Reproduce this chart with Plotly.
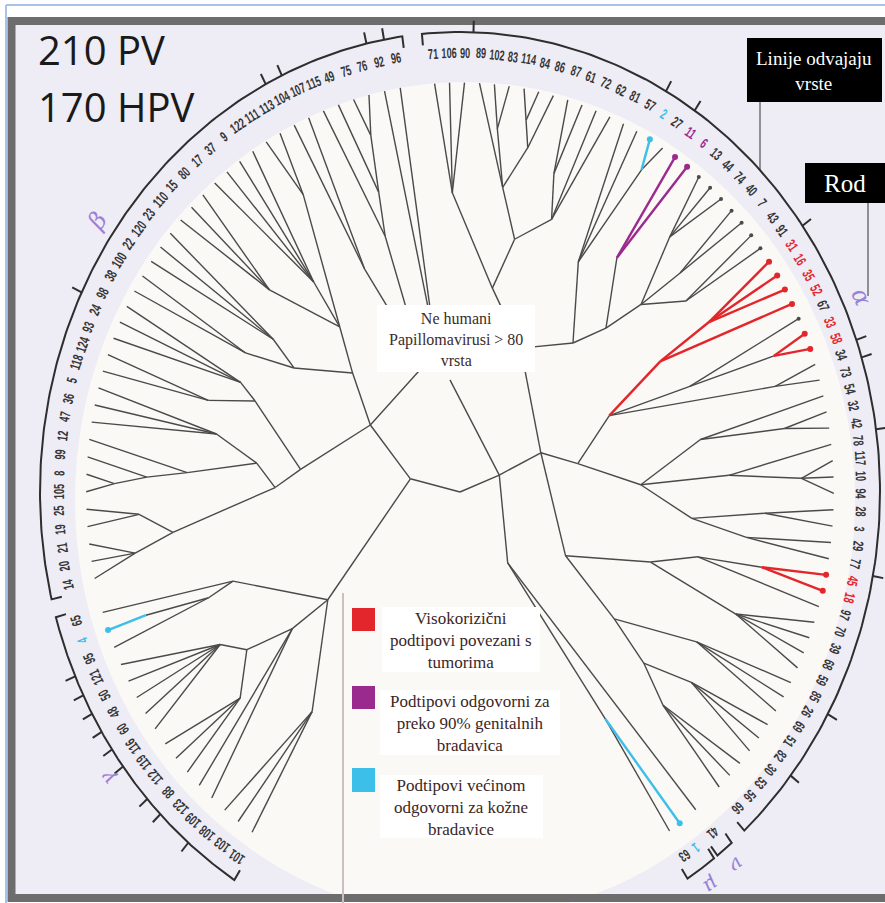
import numpy as np
import plotly.graph_objects as go

# ---------------- data ----------------
gamma_leaves = ["101", "103", "108", "109", "123", "88", "112", "119", "116", "60", "48", "50", "121", "95", "4", "65"]
beta_leaves = ["14", "20", "21", "19", "25", "105", "8", "99", "12", "47", "36", "5", "118", "124", "93", "24", "98",
               "38", "100", "22", "120", "23", "110", "15", "80", "17", "37", "9", "122", "111", "113", "104", "107",
               "115", "49", "75", "76", "92", "96"]
alpha_leaves = ["71", "106", "90", "89", "102", "83", "114", "84", "86", "87", "61", "72", "62", "81", "57", "2", "27",
                "11", "6", "13", "44", "74", "40", "7", "43", "91", "31", "16", "35", "52", "67", "33", "58", "34", "73",
                "54", "32", "42", "78", "117", "10", "94", "28", "3", "29", "77", "45", "18", "97", "70", "39", "68",
                "59", "85", "26", "69", "51", "82", "30", "53", "56", "66"]
nu_leaves = ["41"]
mu_leaves = ["1", "63"]
genus_symbols = {"gamma": "γ", "beta": "β", "alpha": "α", "nu": "ν", "mu": "μ"}

high_risk = ["31", "16", "35", "52", "33", "58", "45", "18"]
genital = ["11", "6"]
cutaneous = ["2", "1", "4"]
black_dot_tips = ["13", "44", "74", "40", "7", "43", "91", "67"]

species_breaks = {"alpha": ["90", "57", "27", "91", "58", "34", "42", "77", "85", "82"],
                  "beta": ["24", "113", "104", "76", "92"],
                  "gamma": ["108", "123", "88", "119", "116", "60", "48", "50", "121"]}

# tree: (node depth, children[, stem colour]); strings are leaves
RED = "red"
A_UPPER_A = (0.47, [
    (0.68, ["71", "106", "90"]),
    (0.59, [
        (0.70, ["89", (0.83, ["102", "83"]), (0.80, [(0.86, ["114", "84"]), "86"])]),
        (0.66, [(0.76, ["87", "61"]), "72", "62"]),
    ]),
])
A_UPPER_B = (0.44, [
    (0.60, ["81", "57", (0.86, ["2", "27"])]),
    (0.52, [(0.66, ["11", "6"]),
            (0.62, [(0.78, ["13", "44", "74"]), (0.74, ["40", "7"]), (0.71, ["43", "91"])])]),
])
A_RED = (0.41, [
    (0.58, [(0.73, ["31", "16", "35"], RED), "52"], RED),
    (0.62, ["67", (0.84, ["33", "58"])]),
    (0.82, ["34", "73"]),
])
A_RIGHT = (0.45, [
    (0.61, ["54", (0.82, ["32", "42"])]),
    (0.67, ["78", (0.85, ["117", "10", "94"])]),
    (0.58, [(0.76, ["28", "3"]), (0.72, ["29", "77"])]),
])
A_LOWER = (0.30, [
    (0.50, [(0.61, [(0.77, ["45", "18"]), "97"]), (0.74, ["70", "39", "68", "59"])]),
    (0.48, [(0.68, ["85", "26", "69"]), (0.60, [(0.72, ["51", "82", "30"]), (0.70, ["53", "56", "66"])])]),
])
ALPHA_CORE = (0.22, [(0.36, [A_UPPER_A, A_UPPER_B]), (0.30, [A_RED, A_RIGHT]), A_LOWER])
NU_MU = (0.20, ["41", (0.63, ["1", "63"])])
GAMMA = (0.41, [
    (0.62, ["101", "103", "108"]),
    (0.52, ["109", "123", (0.64, [(0.72, ["88", "112", "119"]), (0.69, ["116", "60", "48", "50", "121"])])]),
    (0.60, [(0.67, ["95", (0.83, ["4"])]), "65"]),
])
BETA = (0.27, [
    (0.40, [
        (0.46, [(0.72, [(0.82, ["14", "20", "21"]), (0.80, ["19", "25"])]),
                (0.51, [(0.68, [(0.78, [(0.86, ["105", "8"]), "99"]), "12"]), (0.62, ["47", "36", "5"])])]),
        (0.55, [(0.66, ["118", "124"]), (0.60, ["93", "24", "98"])]),
    ]),
    (0.38, [
        (0.50, [(0.62, ["38", "100"]), (0.58, ["22", "120", "23"])]),
        (0.48, [(0.66, ["110", "15", "80"]), (0.60, ["17", "37", "9", "122"]), (0.78, ["111", "113"])]),
    ]),
    (0.30, [
        (0.56, ["104", "107"]),
        (0.61, ["115", (0.71, ["49", (0.84, ["75", "76"])])]),
        (0.36, ["92", "96"]),
    ]),
])
TREE = (0.0, [(0.127, [GAMMA, BETA]), (0.105, ["NH", ALPHA_CORE, NU_MU])])
NH_DEPTH = 0.256

# ---------------- layout parameters ----------------
W, H = 885, 903
CX, CY, RX, RY = 460.0, 492.0, 420.0, 460.0   # pixel frame of unit ring


def X(px):
    return (px - CX) / RX


def Y(py):
    return (CY - py) / RY


spans = {"gamma": (213.8, 252.9), "beta": (257.8, 350.8), "alpha": (356.1, 496.1),
         "nu": (500.9, 500.9), "mu": (504.0, 505.9)}
groups = [("gamma", gamma_leaves), ("beta", beta_leaves), ("alpha", alpha_leaves),
          ("nu", nu_leaves), ("mu", mu_leaves)]
ANG = {}
for g, leaves in groups:
    a0, a1 = spans[g]
    n = len(leaves)
    for i, lab in enumerate(leaves):
        ANG[lab] = a0 + (a1 - a0) * i / (n - 1) if n > 1 else a0
ANG["NH"] = 354.4

TIP_R, LABEL_R, RING_R = 0.89, 0.955, 1.0
DEPTH_SCALE = TIP_R / 0.93

COLORS = {"black": "#4a4a4a", "red": "#e3262b", "magenta": "#9b2a8f", "cyan": "#3cbfe8"}


def pol(r, a):
    t = np.deg2rad(a)
    return r * np.sin(t), r * np.cos(t)


def leaf_color(lab):
    if lab in high_risk:
        return "red"
    if lab in genital:
        return "magenta"
    if lab in cutaneous:
        return "cyan"
    return "black"


edges = {}


def add_edge(col, p, q):
    xs, ys = edges.setdefault(col, ([], []))
    xs += [p[0], q[0], None]
    ys += [p[1], q[1], None]


def place(node):
    if isinstance(node, str):
        r = NH_DEPTH * DEPTH_SCALE if node == "NH" else TIP_R
        return ANG[node], r, [ANG[node]]
    depth, kids = node[0], node[1]
    res = [place(k) for k in kids]
    leaf_angs = [a for rr in res for a in rr[2]]
    ang = float(np.mean(leaf_angs))
    r = depth * DEPTH_SCALE
    for k, (ka, kr, _) in zip(kids, res):
        col = leaf_color(k) if isinstance(k, str) else (k[2] if len(k) > 2 else "black")
        add_edge(col, pol(r, ang), pol(kr, ka))
    return ang, r, leaf_angs


place(TREE)

fig = go.Figure()

# tree edges
for col in ["black", "red", "magenta", "cyan"]:
    if col in edges:
        xs, ys = edges[col]
        fig.add_trace(go.Scatter(x=xs, y=ys, mode="lines",
                                 line=dict(color=COLORS[col], width=1.4 if col == "black" else 2.4),
                                 hoverinfo="skip", showlegend=False))

# tip dots
for col, labs in [("black", black_dot_tips), ("red", high_risk), ("magenta", genital), ("cyan", cutaneous)]:
    pts = [pol(TIP_R, ANG[l]) for l in labs]
    fig.add_trace(go.Scatter(x=[p[0] for p in pts], y=[p[1] for p in pts], mode="markers",
                             marker=dict(color=COLORS[col], size=4 if col == "black" else 6),
                             hoverinfo="skip", showlegend=False))

# genus brackets
bx, by = [], []
for g, leaves in groups:
    a0 = ANG[leaves[0]] - 1.3
    a1 = ANG[leaves[-1]] + 1.3
    t = np.linspace(a0, a1, 160)
    pts = [pol(0.975, a0)] + [pol(RING_R, a) for a in t] + [pol(0.975, a1)]
    bx += [p[0] for p in pts] + [None]
    by += [p[1] for p in pts] + [None]
# species dividers
for g, leaves in groups:
    for lab in species_breaks.get(g, []):
        i = leaves.index(lab)
        a = (ANG[leaves[i]] + ANG[leaves[i + 1]]) / 2
        p, q = pol(RING_R, a), pol(RING_R + 0.025, a)
        bx += [p[0], q[0], None]
        by += [p[1], q[1], None]
fig.add_trace(go.Scatter(x=bx, y=by, mode="lines", line=dict(color="#2e2e2e", width=2),
                         hoverinfo="skip", showlegend=False))


def norm(a):
    return ((a + 180) % 360) - 180


annotations = []
LABEL_FONT = "Liberation Sans, Arial, sans-serif"
for g, leaves in groups:
    for lab in leaves:
        col = leaf_color(lab)
        x, y = pol(LABEL_R, ANG[lab])
        annotations.append(dict(x=x, y=y, text=lab, showarrow=False, xanchor="center", yanchor="middle",
                                textangle=norm(ANG[lab]),
                                font=dict(family=LABEL_FONT, size=14.5, weight="bold",
                                          color="#353535" if col == "black" else COLORS[col])))
    ga = float(np.mean([ANG[l] for l in leaves]))
    x, y = pol(1.045, ga)
    annotations.append(dict(x=x, y=y, text=genus_symbols[g], showarrow=False, xanchor="center",
                            yanchor="middle", textangle=norm(ga),
                            font=dict(family="DejaVu Serif", size=24 if g in ("alpha", "beta") else 20,
                                      color="#9a7fd8", style="italic")))

SERIF = "Liberation Serif, Times New Roman, serif"


def txt(px, py, text, size, color, family=SERIF, xanchor="center"):
    annotations.append(dict(x=X(px), y=Y(py), text=text, showarrow=False, xanchor=xanchor, yanchor="middle",
                            align="center", font=dict(family=family, size=size, color=color)))


txt(36, 49, "210 PV", 40, "#1a1a1a", family="Open Sans, Noto Sans, sans-serif", xanchor="left")
txt(36, 106, "170 HPV", 40, "#1a1a1a", family="Open Sans, Noto Sans, sans-serif", xanchor="left")
txt(814, 71, "Linije odvajaju<br>vrste", 19, "white")
txt(845, 183, "Rod", 25, "white")
txt(456, 339, "Ne humani<br>Papillomavirusi &gt; 80<br>vrsta", 16, "#3b2b2b")
txt(461, 640, "Visokorizični<br>podtipovi povezani s<br>tumorima", 17, "#3a2626")
txt(470, 723, "Podtipovi odgovorni za<br>preko 90% genitalnih<br>bradavica", 17, "#3a2626")
txt(461, 807, "Podtipovi većinom<br>odgovorni za kožne<br>bradavice", 17, "#3a2626")

shapes = []


def rect(x0, y0, x1, y1, fill=None, line=None, lw=0, layer="below"):
    shapes.append(dict(type="rect", xref="x", yref="y", x0=X(x0), x1=X(x1), y0=Y(y1), y1=Y(y0),
                       fillcolor=fill if fill else "rgba(0,0,0,0)",
                       line=dict(color=line if line else "rgba(0,0,0,0)", width=lw), layer=layer))


def seg(x0, y0, x1, y1, color, lw, layer="below"):
    shapes.append(dict(type="line", xref="x", yref="y", x0=X(x0), x1=X(x1), y0=Y(y0), y1=Y(y1),
                       line=dict(color=color, width=lw), layer=layer))


rect(12, 21, 895, 898, fill="#eeecf5")
shapes.append(dict(type="circle", xref="x", yref="y", x0=X(465 - 390), x1=X(465 + 390),
                   y0=Y(500 + 418), y1=Y(500 - 418), fillcolor="#faf9f6", line=dict(width=0), layer="below"))
rect(11.5, 21, 900, 898, line="#6d6d6d", lw=8)
seg(6, 5, 885, 5, "#a9c2e8", 2)
seg(6, 5, 6, 903, "#a9c2e8", 2)
# pointer lines
seg(760, 100, 760, 170, "#707070", 1.5)
seg(868, 200, 868, 296, "#707070", 1.5)
# legend divider
seg(343, 593, 343, 903, "#cbbfbf", 2)
# boxes
rect(747, 38, 882, 102, fill="black", layer="above")
rect(805, 163, 890, 203, fill="black", layer="above")
rect(377, 305, 535, 372, fill="white", layer="above")
rect(382, 607, 540, 672, fill="white", layer="above")
rect(380, 690, 560, 755, fill="white", layer="above")
rect(380, 775, 543, 838, fill="white", layer="above")
rect(352, 608, 375, 631, fill=COLORS["red"], layer="above")
rect(352, 686, 375, 709, fill=COLORS["magenta"], layer="above")
rect(352, 768, 375, 792, fill=COLORS["cyan"], layer="above")

fig.update_layout(
    width=W, height=H, margin=dict(l=0, r=0, t=0, b=0),
    paper_bgcolor="white", plot_bgcolor="white",
    xaxis=dict(range=[X(0), X(W)], visible=False, fixedrange=True),
    yaxis=dict(range=[Y(H), Y(0)], visible=False, fixedrange=True),
    shapes=shapes, annotations=annotations, showlegend=False,
)

condense = (
    "document.body.style.margin='0';document.body.style.overflow='hidden';"
    "document.querySelectorAll('text.annotation-text').forEach(function(el){"
    "if(/^[0-9]+$/.test(el.textContent)){var L=el.getComputedTextLength();"
    "el.setAttribute('lengthAdjust','spacingAndGlyphs');"
    "el.setAttribute('textLength',(L*0.63).toFixed(2));}});"
)
fig.write_html("out.html", config={"displayModeBar": False}, post_script=condense)
